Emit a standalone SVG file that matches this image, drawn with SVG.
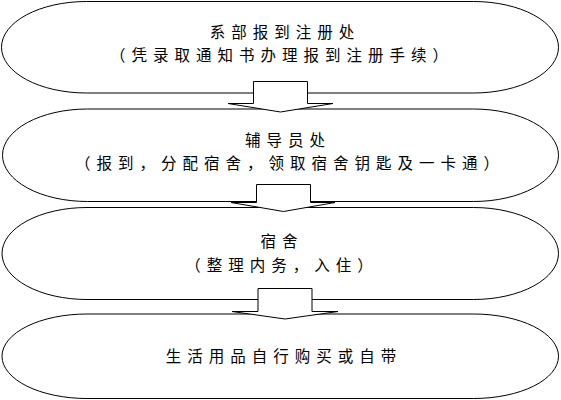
<svg xmlns="http://www.w3.org/2000/svg" width="561" height="400" viewBox="0 0 561 400">
<style>
.node{fill:#fff;stroke:#000;stroke-width:1}
.arr{fill:#fff;stroke:#000;stroke-width:1;stroke-linejoin:miter}
text{font-family:"Noto Sans CJK SC","Noto Sans CJK JP",sans-serif;font-size:15.5px;fill:#000;letter-spacing:6px;text-anchor:middle}
</style>
<rect width="561" height="400" fill="#fff"/>
<g id="n1">
<rect class="node" x="1.5" y="1.5" width="557" height="91.5" rx="85" ry="45.75"/>
<text x="285" y="38">系部报到注册处</text>
<text x="282" y="61">（凭录取通知书办理报到注册手续）</text>
</g>
<g id="n2">
<rect class="node" x="2.5" y="109" width="556" height="92.5" rx="85" ry="46.25"/>
<text x="288" y="146">辅导员处</text>
<text x="290" y="169">（报到，分配宿舍，领取宿舍钥匙及一卡通）</text>
</g>
<g id="n3">
<rect class="node" x="2" y="207.5" width="556.5" height="92" rx="85" ry="46"/>
<text x="282" y="247">宿舍</text>
<text x="282" y="271">（整理内务，入住）</text>
</g>
<g id="n4">
<rect class="node" x="2" y="314" width="556.5" height="84.5" rx="85" ry="42.25"/>
<text x="284" y="362">生活用品自行购买或自带</text>
</g>
<g id="connectors">
<polygon class="arr" points="253.5,81.5 307.5,81.5 307.5,103.5 333,103.5 280.5,112 228,103.5 253.5,103.5"/>
<polygon class="arr" points="256.5,184.5 310.5,184.5 310.5,202.5 335,202.5 283.5,211.5 231,202.5 256.5,202.5"/>
<polygon class="arr" points="258,288.5 312,288.5 312,311.5 338,311.5 285,319 232,311.5 258,311.5"/>
</g>
</svg>
